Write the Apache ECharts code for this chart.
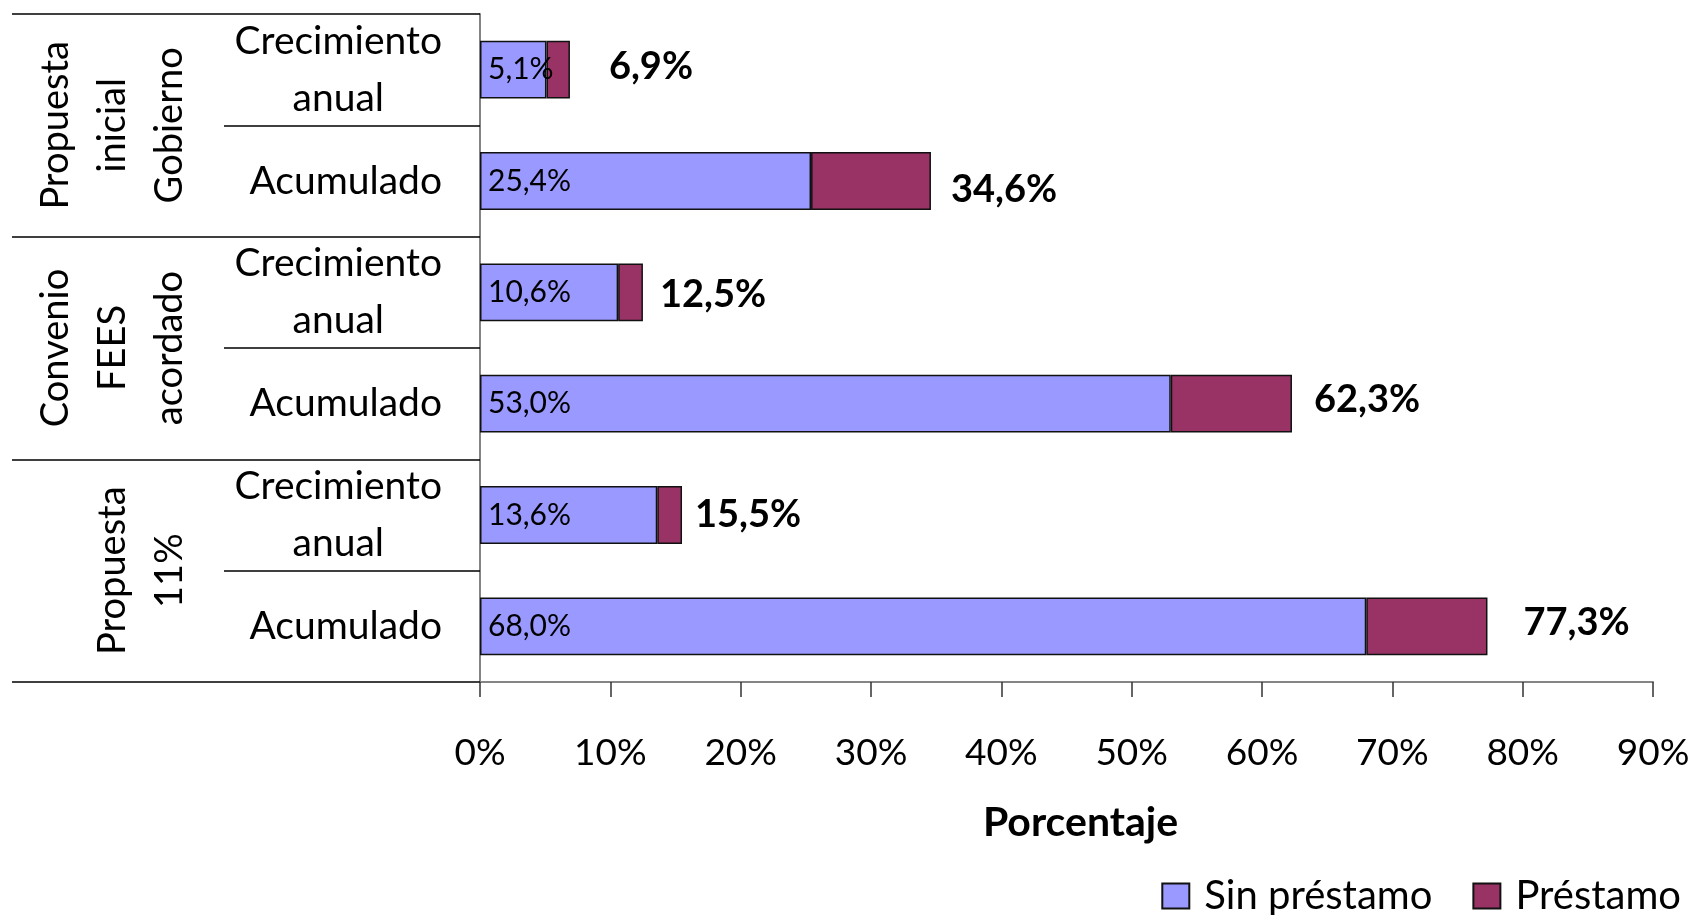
<!DOCTYPE html>
<html>
<head>
    <meta charset="utf-8">
    <title>Crecimiento anual y acumulado</title>
    <style>
        html, body {margin:0;padding:0;background:#fff;}
        #chart {width:1697px;height:915px;}
    </style>
</head>
<body>
<div id="chart"></div>
<script src="https://cdn.jsdelivr.net/npm/echarts@6/dist/echarts.min.js"></script>
<script>
    // datos del gráfico
    var grupos = ['Propuesta\ninicial\nGobierno', 'Convenio\nFEES\nacordado', 'Propuesta\n11%'];
    var categorias = ['Crecimiento\nanual', 'Acumulado', 'Crecimiento\nanual', 'Acumulado', 'Crecimiento\nanual', 'Acumulado'];
    var sinPrestamo = [5.1, 25.4, 10.6, 53.0, 13.6, 68.0];
    var prestamo = [1.8, 9.2, 1.9, 9.3, 1.9, 9.3];
    var totales = ['6,9%', '34,6%', '12,5%', '62,3%', '15,5%', '77,3%'];
    var ticksX = [0, 10, 20, 30, 40, 50, 60, 70, 80, 90];

    var fuente = 'Lato, "Noto Sans", sans-serif';
    // pequeños desplazamientos de las etiquetas de total, como en el original
    var despl = [[21, -3], [2, 9], [-1, 2], [4, -4], [-5, 0], [18, -4]];

    var chart = echarts.init(document.getElementById('chart'));

    chart.setOption({
        animation: false,
        textStyle: {fontFamily: fuente, color: '#000'},
        grid: {
            left: 480,
            right: 44,
            top: 14,
            bottom: 233
        },
        legend: {
            data: ['Sin préstamo', 'Préstamo'],
            right: 11,
            top: 871,
            icon: 'rect',
            itemWidth: 27,
            itemHeight: 25,
            itemGap: 40,
            textStyle: {fontFamily: fuente, fontSize: 40, lineHeight: 40, color: '#000', padding: [0, 0, 0, 10]}
        },
        xAxis: {
            type: 'value',
            min: ticksX[0],
            max: ticksX[ticksX.length - 1],
            interval: 10,
            name: 'Porcentaje',
            nameLocation: 'middle',
            nameGap: 120,
            nameTextStyle: {fontFamily: fuente, fontSize: 41, fontWeight: 'bold', color: '#000', padding: [0, 0, 0, 28]},
            axisLine: {show: true, lineStyle: {color: '#858585', width: 2}},
            axisTick: {show: true, length: 15, lineStyle: {color: '#333', width: 1.5}},
            axisLabel: {
                fontSize: 37,
                lineHeight: 40,
                margin: 51,
                color: '#000',
                formatter: '{value}%'
            },
            splitLine: {show: false}
        },
        yAxis: [
            {
                type: 'category',
                data: categorias,
                inverse: true,
                position: 'left',
                axisLine: {show: true, lineStyle: {color: '#858585', width: 2}},
                axisTick: {show: true, length: 256, lineStyle: {color: '#000', width: 1.5}},
                axisLabel: {
                    interval: 0,
                    margin: 38,
                    align: 'right',
                    formatter: function (v) {
                        return v.split('\n').map(function (l) { return '{c|' + l + '}'; }).join('\n');
                    },
                    rich: {
                        c: {align: 'center', fontFamily: fuente, fontSize: 39, lineHeight: 57, color: '#000'}
                    }
                }
            },
            {
                type: 'category',
                data: grupos,
                inverse: true,
                position: 'left',
                offset: 0,
                axisLine: {show: false},
                axisTick: {show: true, length: 468, lineStyle: {color: '#000', width: 1.5}},
                axisLabel: {
                    interval: 0,
                    rotate: 90,
                    margin: 282,
                    fontFamily: fuente,
                    fontSize: 38,
                    lineHeight: 57,
                    color: '#000'
                }
            }
        ],
        series: [
            {
                name: 'Sin préstamo',
                type: 'bar',
                stack: 'total',
                yAxisIndex: 0,
                barWidth: '52%',
                itemStyle: {color: '#9999FF', borderColor: '#111', borderWidth: 1.5},
                label: {
                    show: true,
                    position: 'insideLeft',
                    distance: 8,
                    fontFamily: fuente,
                    fontSize: 30,
                    color: '#000',
                    formatter: function (p) { return p.value.toFixed(1).replace('.', ',') + '%'; }
                },
                data: sinPrestamo
            },
            {
                name: 'Préstamo',
                type: 'bar',
                stack: 'total',
                yAxisIndex: 0,
                barWidth: '52%',
                itemStyle: {color: '#993366', borderColor: '#111', borderWidth: 1.5},
                label: {
                    show: true,
                    position: 'right',
                    distance: 18,
                    fontFamily: fuente,
                    fontSize: 38,
                    fontWeight: 'bold',
                    color: '#000',
                    formatter: function (p) { return totales[p.dataIndex]; }
                },
                data: prestamo.map(function (v, i) {
                    return {value: v, label: {offset: despl[i]}};
                })
            }
        ]
    });
</script>
</body>
</html>
